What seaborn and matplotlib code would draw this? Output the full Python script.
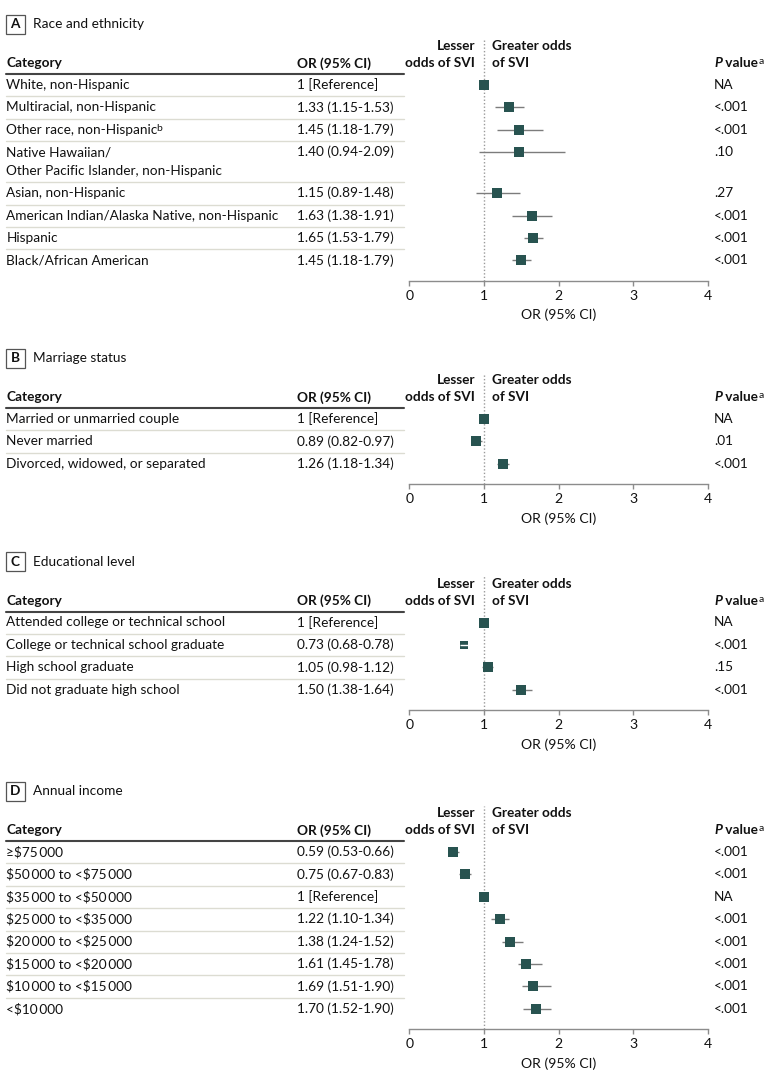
import numpy as np
import pandas as pd
import matplotlib.pyplot as plt
import matplotlib.transforms as mtransforms
from matplotlib.patches import Rectangle
import seaborn as sns

# ---- data -------------------------------------------------------------
race_labels = ["White, non-Hispanic", "Multiracial, non-Hispanic", "Other race, non-Hispanic",
               "Native Hawaiian/\nOther Pacific Islander, non-Hispanic", "Asian, non-Hispanic",
               "American Indian/Alaska Native, non-Hispanic", "Hispanic", "Black/African American"]
race_sup = ["", "", "b", "", "", "", "", ""]
race_or_text = ["1 [Reference]", "1.33 (1.15-1.53)", "1.45 (1.18-1.79)", "1.40 (0.94-2.09)",
                "1.15 (0.89-1.48)", "1.63 (1.38-1.91)", "1.65 (1.53-1.79)", "1.45 (1.18-1.79)"]
# plotted positions
race_est = [1.00, 1.34, 1.47, 1.47, 1.18, 1.64, 1.66, 1.50]
race_lo = [1.00, 1.15, 1.18, 0.94, 0.89, 1.38, 1.53, 1.38]
race_hi = [1.00, 1.53, 1.79, 2.09, 1.48, 1.91, 1.79, 1.63]
race_p = ["NA", "<.001", "<.001", ".10", ".27", "<.001", "<.001", "<.001"]

marr_labels = ["Married or unmarried couple", "Never married", "Divorced, widowed, or separated"]
marr_sup = ["", "", ""]
marr_or_text = ["1 [Reference]", "0.89 (0.82-0.97)", "1.26 (1.18-1.34)"]
marr_est = [1.00, 0.89, 1.26]
marr_lo = [1.00, 0.82, 1.18]
marr_hi = [1.00, 0.97, 1.34]
marr_p = ["NA", ".01", "<.001"]

edu_labels = ["Attended college or technical school", "College or technical school graduate",
              "High school graduate", "Did not graduate high school"]
edu_sup = ["", "", "", ""]
edu_or_text = ["1 [Reference]", "0.73 (0.68-0.78)", "1.05 (0.98-1.12)", "1.50 (1.38-1.64)"]
edu_est = [1.00, 0.73, 1.05, 1.50]
edu_lo = [1.00, 0.68, 0.98, 1.38]
edu_hi = [1.00, 0.78, 1.12, 1.64]
edu_p = ["NA", "<.001", ".15", "<.001"]

inc_labels = ["\u2265\\$75\u2009000", "\\$50\u2009000 to <\\$75\u2009000", "\\$35\u2009000 to <\\$50\u2009000",
              "\\$25\u2009000 to <\\$35\u2009000", "\\$20\u2009000 to <\\$25\u2009000",
              "\\$15\u2009000 to <\\$20\u2009000", "\\$10\u2009000 to <\\$15\u2009000", "<\\$10\u2009000"]
inc_sup = [""] * 8
inc_or_text = ["0.59 (0.53-0.66)", "0.75 (0.67-0.83)", "1 [Reference]", "1.22 (1.10-1.34)",
               "1.38 (1.24-1.52)", "1.61 (1.45-1.78)", "1.69 (1.51-1.90)", "1.70 (1.52-1.90)"]
inc_est = [0.59, 0.75, 1.00, 1.22, 1.35, 1.56, 1.65, 1.70]
inc_lo = [0.53, 0.67, 1.00, 1.10, 1.24, 1.45, 1.51, 1.52]
inc_hi = [0.66, 0.83, 1.00, 1.34, 1.52, 1.78, 1.90, 1.90]
inc_p = ["<.001", "<.001", "NA", "<.001", "<.001", "<.001", "<.001", "<.001"]

x_ticks = [0, 1, 2, 3, 4]

# ---- layout (pixels) --------------------------------------------------
W, H = 771, 1081
X_CAT, X_OR, X_P = 6.5, 297, 714
X_AX0, X_AX1 = 409.3, 708
ROW_H, EXTRA_LINE = 22.4, 18.5
TEAL = "#285350"
TXT = "#111111"
FS = 9.8

sns.set_theme(style="white")
plt.rcParams["font.family"] = ["Lato", "DejaVu Sans"]
plt.rcParams["text.color"] = TXT


def draw_panel(fig, letter, title, labels, sups, or_text, est, lo, hi, pvals, hl):
    heights = [ROW_H + EXTRA_LINE * lab.count("\n") for lab in labels]
    tops = np.concatenate([[0], np.cumsum(heights)[:-1]])
    total = sum(heights)
    top_px, bot_px = hl - 35, hl + total + 9
    ax = fig.add_axes([X_AX0 / W, 1 - bot_px / H, (X_AX1 - X_AX0) / W, (bot_px - top_px) / H])
    ax.set_xlim(0, 4)
    ax.set_ylim(total + 9, -35)

    df = pd.DataFrame({"est": est, "lo": lo, "hi": hi, "y": tops + 11})
    sq_w = 9.3 / (X_AX1 - X_AX0) * 4  # marker width in data units
    narrow = (df.hi - df.lo) < sq_w
    wide = df[~narrow & (df.hi > df.lo)]
    ax.hlines(wide.y, wide.lo, wide.hi, color="#7c7c7c", lw=1, zorder=2)
    sns.scatterplot(data=df[~narrow], x="est", y="y", marker="s", s=46, color=TEAL,
                    linewidth=0, ax=ax, zorder=3)
    tiny = df[narrow & (df.hi > df.lo)]
    if len(tiny):
        sns.scatterplot(data=tiny, x="est", y="y", marker="s", s=34, color=TEAL,
                        linewidth=0, ax=ax, zorder=3)
        ax.hlines(tiny.y, tiny.lo, tiny.hi, color="white", lw=1, zorder=4)
    ref = df[narrow & (df.hi == df.lo)]
    sns.scatterplot(data=ref, x="est", y="y", marker="s", s=46, color=TEAL,
                    linewidth=0, ax=ax, zorder=3)

    ax.axvline(1, color="#9a9a9a", ls=(0, (1, 1.5)), lw=1, zorder=1)

    ax.set_xticks(x_ticks)
    ax.set_xticklabels([str(t) for t in x_ticks])
    ax.set_yticks([])
    ax.set_ylabel("")
    ax.set_xlabel("OR (95% CI)", fontsize=FS + 0.3, color=TXT, labelpad=5)
    for s in ["left", "right", "top"]:
        ax.spines[s].set_visible(False)
    ax.spines["bottom"].set_color("#8c8c8c")
    ax.spines["bottom"].set_linewidth(1)
    ax.tick_params(axis="x", bottom=True, direction="out", length=3.6, width=1,
                   color="#8c8c8c", labelsize=FS + 0.3, labelcolor=TXT, pad=3)
    ax.patch.set_alpha(0)

    # table, x in figure pixels, y in row coordinates
    tr = mtransforms.blended_transform_factory(fig.transFigure, ax.transData)
    ax.plot([6 / W, 404 / W], [0, 0], transform=tr, color="#444444", lw=1.5, clip_on=False)
    for b in tops[1:]:
        ax.plot([6 / W, 404 / W], [b, b], transform=tr, color="#dcdcd2", lw=1, clip_on=False)

    hy = -10.7
    ax.text(X_CAT / W, hy, "Category", transform=tr, va="center", fontsize=FS, weight="bold")
    ax.text(X_OR / W, hy, "OR (95% CI)", transform=tr, va="center", fontsize=FS, weight="bold")
    ax.text(475 / W, -28, "Lesser", transform=tr, va="center", ha="right", fontsize=FS, weight="bold")
    ax.text(475 / W, hy, "odds of SVI", transform=tr, va="center", ha="right", fontsize=FS, weight="bold")
    ax.text(492 / W, -28, "Greater odds", transform=tr, va="center", fontsize=FS, weight="bold")
    ax.text(492 / W, hy, "of SVI", transform=tr, va="center", fontsize=FS, weight="bold")
    tp = ax.text(X_P / W, hy, "P", transform=tr, va="center", fontsize=FS, weight="bold", style="italic")
    tv = ax.annotate(" value", xy=(1, 0), xycoords=tp, va="bottom", ha="left", fontsize=FS, weight="bold")
    ax.annotate("a", xy=(1, 1), xycoords=tv, xytext=(0.5, 0), textcoords="offset points",
                va="top", ha="left", fontsize=7.5)

    for lab, sup, ort, pv, c in zip(labels, sups, or_text, pvals, tops + 11):
        lines = lab.split("\n")
        for k, line in enumerate(lines):
            t = ax.text(X_CAT / W, c + k * EXTRA_LINE, line, transform=tr, va="center", fontsize=FS)
        if sup:
            ax.annotate(sup, xy=(1, 1), xycoords=t, xytext=(-1, 0), textcoords="offset points",
                        va="top", ha="left", fontsize=7.5)
        ax.text(X_OR / W, c, ort, transform=tr, va="center", fontsize=FS)
        ax.text(X_P / W, c, pv, transform=tr, va="center", fontsize=FS)

    # panel letter box and title
    ly = hl - 50
    fig.add_artist(Rectangle((5.7 / W, 1 - (ly + 9.5) / H), 19.3 / W, 19 / H,
                             transform=fig.transFigure, fill=False, ec="#555555", lw=0.9))
    fig.text(15.3 / W, 1 - ly / H, letter, ha="center", va="center", fontsize=FS, weight="bold")
    fig.text(33 / W, 1 - ly / H, title, va="center", fontsize=FS)
    return ax


fig = plt.figure(figsize=(W / 100, H / 100), dpi=100)
draw_panel(fig, "A", "Race and ethnicity", race_labels, race_sup, race_or_text,
           race_est, race_lo, race_hi, race_p, 74)
draw_panel(fig, "B", "Marriage status", marr_labels, marr_sup, marr_or_text,
           marr_est, marr_lo, marr_hi, marr_p, 408)
draw_panel(fig, "C", "Educational level", edu_labels, edu_sup, edu_or_text,
           edu_est, edu_lo, edu_hi, edu_p, 611.5)
draw_panel(fig, "D", "Annual income", inc_labels, inc_sup, inc_or_text,
           inc_est, inc_lo, inc_hi, inc_p, 841)

fig.savefig("out.png", dpi=100)
